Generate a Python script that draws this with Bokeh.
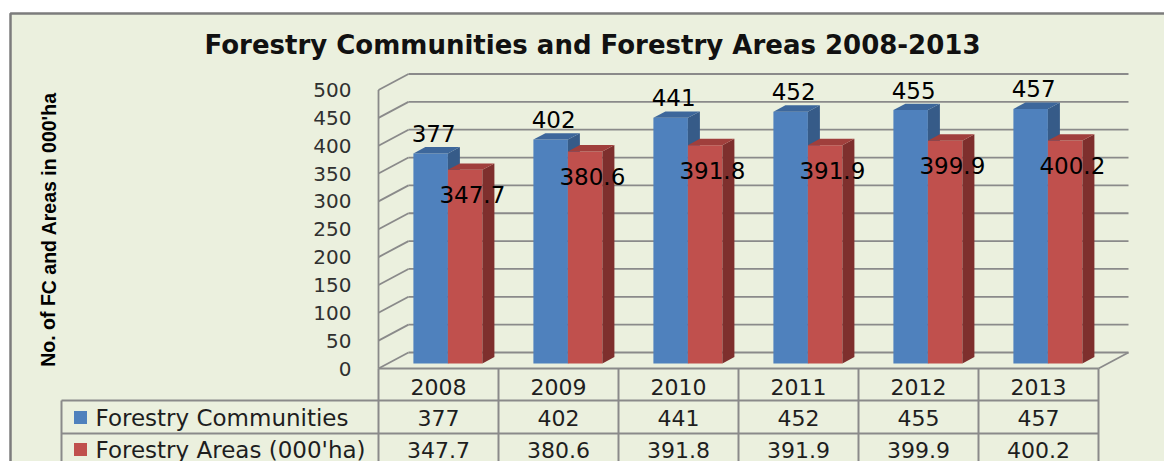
from bokeh.plotting import figure
from bokeh.models import Range1d
from bokeh.core.properties import value
from bokeh.embed import file_html
from bokeh.resources import INLINE

# ---------------- data ----------------
years = ["2008", "2009", "2010", "2011", "2012", "2013"]
communities = [377, 402, 441, 452, 455, 457]
areas = [347.7, 380.6, 391.8, 391.9, 399.9, 400.2]
area_labels = ["347.7", "380.6", "391.8", "391.9", "399.9", "400.2"]
y_ticks = [0, 50, 100, 150, 200, 250, 300, 350, 400, 450, 500]
series_names = ["Forestry Communities", "Forestry Areas (000'ha)"]
title_text = "Forestry Communities and Forestry Areas 2008-2013"
ylabel_text = "No. of FC and Areas in 000'ha"

# ---------------- layout / style ----------------
W, H = 1164, 461
PAGE_X0, PAGE_Y0 = 0, 0
AXIS_X = 378          # page x of the front-left corner of the plot box
ZERO_Y = 368          # page y of value 0 on the front plane
COL_PX = 120          # width of a category column
UNIT_PX = 0.557       # pixels per value unit
BACK_DX, BACK_DY = 30 / COL_PX, 16 / UNIT_PX     # depth of the back wall
BAR_DX, BAR_DY = 9.4 / COL_PX, 5 / UNIT_PX       # depth of the bar plane
SIDE_DX, SIDE_DY = 12 / COL_PX, 6.4 / UNIT_PX    # bar thickness
BAR_W = 34.5 / COL_PX

BG = "#ebf0de"
GRID = "#8a8a8a"
BLUE, BLUE_SIDE, BLUE_TOP = "#4f81bd", "#365b88", "#3d679b"
RED, RED_SIDE, RED_TOP = "#c0504d", "#7e2f2d", "#a03f3c"
FONT = "DejaVu Sans"

ncol = len(years)
x_range = Range1d((PAGE_X0 - AXIS_X) / COL_PX, (PAGE_X0 + W - AXIS_X) / COL_PX)
y_range = Range1d(-(PAGE_Y0 + H - ZERO_Y) / UNIT_PX, (ZERO_Y - PAGE_Y0) / UNIT_PX)

p = figure(width=W, height=H, x_range=x_range, y_range=y_range,
           x_axis_location=None, y_axis_location=None,
           toolbar_location=None, output_backend="svg", min_border=0,
           outline_line_color=None, background_fill_color="white",
           border_fill_color="white")
p.grid.visible = False
p.extra_x_ranges = {"px": Range1d(PAGE_X0, PAGE_X0 + W)}
p.extra_y_ranges = {"py": Range1d(PAGE_Y0 + H, PAGE_Y0)}

# chart area background with border
p.quad(left=[10], right=[1300], top=[13], bottom=[600], x_range_name="px",
       y_range_name="py", fill_color=BG, line_color="#7c7c7c", line_width=2.5)

# ---------------- walls / gridlines ----------------
ymax = y_ticks[-1]
p.segment(x0=[0] * len(y_ticks), y0=y_ticks,
          x1=[BACK_DX] * len(y_ticks), y1=[t + BACK_DY for t in y_ticks],
          line_color=GRID, line_width=1.8)
p.segment(x0=[BACK_DX] * len(y_ticks), y0=[t + BACK_DY for t in y_ticks],
          x1=[ncol + BACK_DX] * len(y_ticks), y1=[t + BACK_DY for t in y_ticks],
          line_color=GRID, line_width=1.8)
p.segment(x0=[0, 0, ncol], y0=[0, 0, 0], x1=[0, ncol, ncol + BACK_DX],
          y1=[ymax, 0, BACK_DY], line_color=GRID, line_width=1.8)

# ---------------- 3D bars ----------------
def bar_faces(values, offset):
    fronts, sides, tops = ([], []), ([], []), ([], [])
    for i, v in enumerate(values):
        x0 = i + 0.5 + BAR_DX + offset
        x1 = x0 + BAR_W
        y0 = BAR_DY
        y1 = v + BAR_DY
        fronts[0].append([x0, x1, x1, x0]); fronts[1].append([y0, y0, y1, y1])
        sides[0].append([x1, x1 + SIDE_DX, x1 + SIDE_DX, x1])
        sides[1].append([y0, y0 + SIDE_DY, y1 + SIDE_DY, y1])
        tops[0].append([x0, x0 + SIDE_DX, x1 + SIDE_DX, x1])
        tops[1].append([y1, y1 + SIDE_DY, y1 + SIDE_DY, y1])
    return fronts, sides, tops

for vals, off, cols in ((communities, -BAR_W, (BLUE, BLUE_SIDE, BLUE_TOP)),
                        (areas, 0.0, (RED, RED_SIDE, RED_TOP))):
    fr, sd, tp = bar_faces(vals, off)
    p.patches(xs=fr[0], ys=fr[1], fill_color=cols[0], line_color=None)
    p.patches(xs=sd[0], ys=sd[1], fill_color=cols[1], line_color=None)
    p.patches(xs=tp[0], ys=tp[1], fill_color=cols[2], line_color=None)

# data labels
p.text(x=[i + 0.5 + BAR_DX - BAR_W / 2 + 0.025 for i in range(ncol)],
       y=[v + BAR_DY + 36 for v in communities],
       text=[str(v) for v in communities], text_font=value(FONT),
       text_font_size="23px", text_color="black",
       text_align="center", text_baseline="middle")
p.text(x=[i + 0.5 + BAR_DX + BAR_W / 2 + 0.06 for i in range(ncol)],
       y=[v + BAR_DY - 45 for v in areas],
       text=area_labels, text_font=value(FONT),
       text_font_size="23px", text_color="black",
       text_align="center", text_baseline="middle")

# y tick labels
p.text(x=[0] * len(y_ticks), y=y_ticks, text=[str(t) for t in y_ticks],
       x_offset=-27, text_font=value(FONT), text_font_size="20px",
       text_color="#303030", text_align="right", text_baseline="middle")

# ---------------- data table ----------------
TABLE_TOP, ROW1, ROW2, TABLE_BOTTOM = ZERO_Y, 400, 433, 600
TABLE_LEFT = 61
right_px = AXIS_X + COL_PX * ncol
p.segment(x0=list(range(ncol + 1)), y0=[TABLE_TOP] * (ncol + 1),
          x1=list(range(ncol + 1)), y1=[TABLE_BOTTOM] * (ncol + 1),
          y_range_name="py", line_color=GRID, line_width=2)
p.segment(x0=[TABLE_LEFT, TABLE_LEFT, TABLE_LEFT], y0=[ROW1, ROW2, ROW1],
          x1=[right_px, right_px, TABLE_LEFT], y1=[ROW1, ROW2, TABLE_BOTTOM],
          x_range_name="px", y_range_name="py", line_color=GRID, line_width=2)

centers = [i + 0.5 for i in range(ncol)]
TXT = "#1e1e1e"
p.text(x=centers, y=[386] * ncol, text=years, y_range_name="py",
       text_font=value(FONT), text_font_size="22px", text_color=TXT,
       text_align="center", text_baseline="middle")
p.text(x=centers, y=[417] * ncol, text=[str(v) for v in communities],
       y_range_name="py", text_font=value(FONT), text_font_size="22px",
       text_color=TXT, text_align="center", text_baseline="middle")
p.text(x=centers, y=[449] * ncol, text=area_labels,
       y_range_name="py", text_font=value(FONT), text_font_size="22px",
       text_color=TXT, text_align="center", text_baseline="middle")

# legend keys and row names
p.rect(x=[80, 80], y=[417, 449], width=13, height=13,
       x_range_name="px", y_range_name="py",
       fill_color=[BLUE, RED], line_color=None)
p.text(x=[95, 95], y=[417, 449], text=series_names,
       x_range_name="px", y_range_name="py",
       text_font=value(FONT), text_font_size="23px", text_color=TXT,
       text_align="left", text_baseline="middle")

# ---------------- title and axis title ----------------
p.text(x=[592], y=[44], text=[title_text], x_range_name="px", y_range_name="py",
       text_font=value(FONT), text_font_style="bold", text_font_size="26px",
       text_color="#111111", text_align="center", text_baseline="middle")
p.text(x=[48], y=[229], text=[ylabel_text], angle=1.5707963,
       x_range_name="px", y_range_name="py",
       text_font=value("Liberation Sans"), text_font_style="bold",
       text_font_size="19.5px", text_color="black",
       text_align="center", text_baseline="middle")

open("out.html", "w").write(file_html(p, INLINE))
